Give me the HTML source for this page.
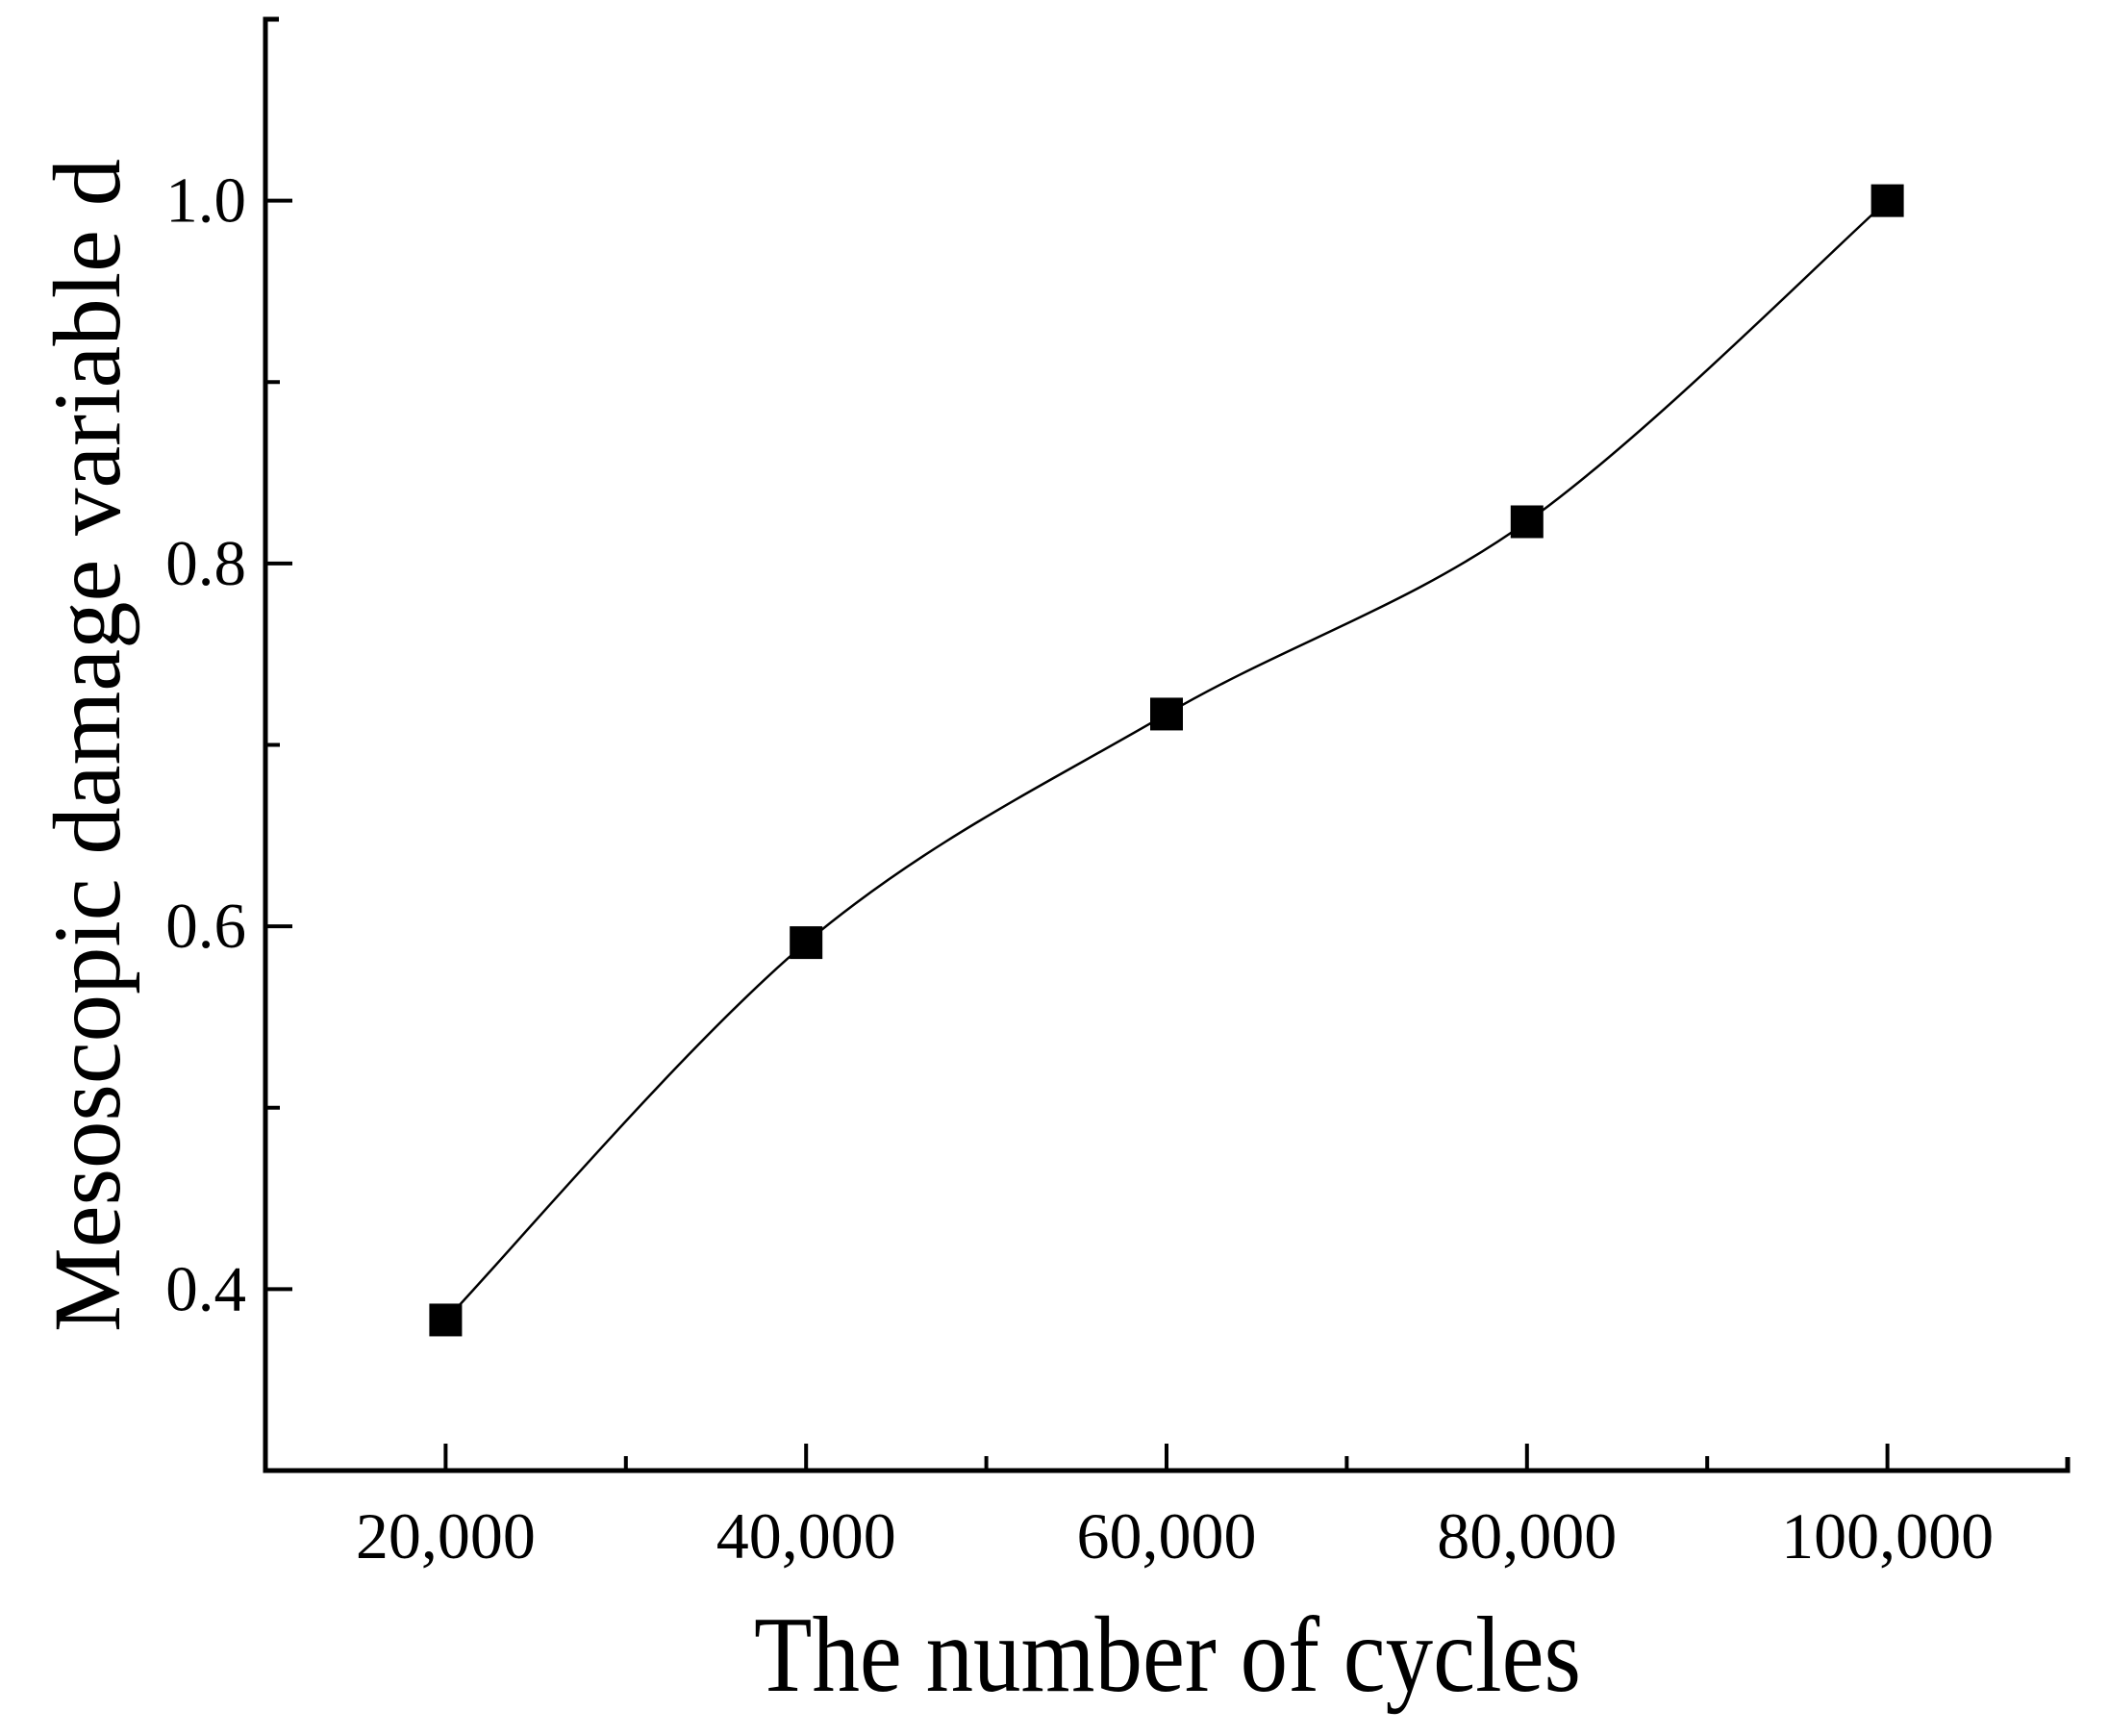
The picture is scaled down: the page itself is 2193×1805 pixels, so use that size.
<!DOCTYPE html>
<html><head><meta charset="utf-8"><style>
html,body{margin:0;padding:0;background:#fff;}
svg{display:block;font-family:"Liberation Serif",serif;}
</style></head><body>
<svg id="chart" width="2193" height="1805" viewBox="0 0 2193 1805" xmlns="http://www.w3.org/2000/svg">
<g id="axes"></g>
<g id="series"></g>
<text x="1214" y="1758" font-size="112" text-anchor="middle" textLength="860" lengthAdjust="spacingAndGlyphs">The number of cycles</text>
<text transform="translate(124,775) rotate(-90)" font-size="100" text-anchor="middle" textLength="1220" lengthAdjust="spacingAndGlyphs">Mesoscopic damage variable d</text>
</svg>
<script>
const categories = [20000, 40000, 60000, 80000, 100000];
const values = [0.383, 0.591, 0.717, 0.823, 1.0];
const xTicks = [20000, 40000, 60000, 80000, 100000];
const xTickLabels = ["20,000", "40,000", "60,000", "80,000", "100,000"];
const xMinor = [30000, 50000, 70000, 90000];
const yTicks = [0.4, 0.6, 0.8, 1.0];
const yTickLabels = ["0.4", "0.6", "0.8", "1.0"];
const yMinor = [0.5, 0.7, 0.9];

const L=276, R=2150, T=20, B=1529;
const xMin=10000, xMax=110000, yMin=0.3, yMax=1.1;
const xs = v => L + (v-xMin)/(xMax-xMin)*(R-L);
const ys = v => B - (v-yMin)/(yMax-yMin)*(B-T);
const NS="http://www.w3.org/2000/svg";
const axes=document.getElementById('axes'), series=document.getElementById('series');
function mk(tag, attrs, parent){const e=document.createElementNS(NS,tag);for(const k in attrs)e.setAttribute(k,attrs[k]);parent.appendChild(e);return e;}

let e;
e=mk('path',{d:`M${L+14},${T} H${L} V${B} H${R} V${B-14}`,fill:'none',stroke:'#000','stroke-width':5},axes);



xTicks.forEach((v,i)=>{
  const t=mk('line',{x1:xs(v),x2:xs(v),y1:B,y2:B-28,stroke:'#000','stroke-width':4},axes);
  
  
  const l=mk('text',{x:xs(v),y:1620,'font-size':68,'text-anchor':'middle'},axes);
  l.textContent=xTickLabels[i];
  
  
});
xMinor.forEach(v=>{
  const t=mk('line',{x1:xs(v),x2:xs(v),y1:B,y2:B-15,stroke:'#000','stroke-width':4},axes);
  
  
});
yTicks.forEach((v,i)=>{
  const t=mk('line',{x1:L,x2:L+28,y1:ys(v),y2:ys(v),stroke:'#000','stroke-width':4},axes);
  
  
  const l=mk('text',{x:256,y:ys(v)+22,'font-size':67,'text-anchor':'end'},axes);
  l.textContent=yTickLabels[i];
  
  
});
yMinor.forEach(v=>{
  const t=mk('line',{x1:L,x2:L+15,y1:ys(v),y2:ys(v),stroke:'#000','stroke-width':4},axes);
  
  
});

const pts=categories.map((c,i)=>[xs(c),ys(values[i])]);
let d=`M${pts[0][0]},${pts[0][1]}`;
for(let i=0;i<pts.length-1;i++){
  const p0=pts[i-1]||pts[i], p1=pts[i], p2=pts[i+1], p3=pts[i+2]||pts[i+1];
  const c1=[p1[0]+(p2[0]-p0[0])/6, p1[1]+(p2[1]-p0[1])/6];
  const c2=[p2[0]-(p3[0]-p1[0])/6, p2[1]-(p3[1]-p1[1])/6];
  d+=` C${c1[0]},${c1[1]} ${c2[0]},${c2[1]} ${p2[0]},${p2[1]}`;
}
e=mk('path',{d:d,fill:'none',stroke:'#000','stroke-width':2.5},series);


pts.forEach(p=>{
  const m=mk('rect',{x:p[0]-17,y:p[1]-17,width:34,height:34,fill:'#000'},series);
  
  
});
</script>
</body></html>
